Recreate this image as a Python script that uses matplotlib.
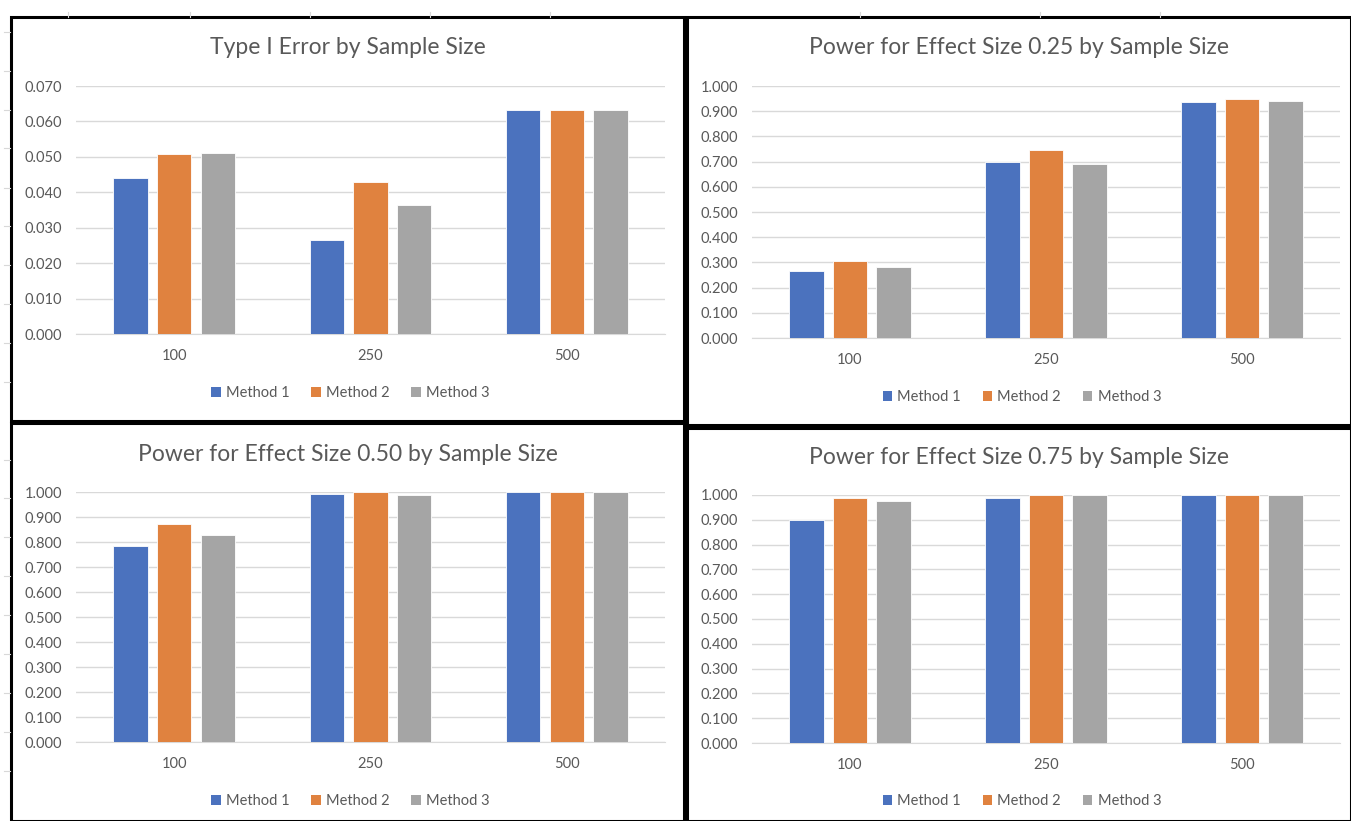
import numpy as np
import matplotlib
matplotlib.use("Agg")
import matplotlib.pyplot as plt
from matplotlib.patches import Rectangle, Patch

plt.rcParams['font.family'] = ['Lato', 'DejaVu Sans']

# data
sample_sizes = ["100", "250", "500"]
methods = ["Method 1", "Method 2", "Method 3"]
colors = ["#4B72BE", "#E0823F", "#A5A5A5"]

type1_error = [[0.0439, 0.0265, 0.0632],   # Method 1
               [0.0509, 0.0430, 0.0632],   # Method 2
               [0.0512, 0.0364, 0.0632]]   # Method 3
power_025 = [[0.266, 0.698, 0.935],
             [0.307, 0.747, 0.948],
             [0.283, 0.690, 0.940]]
power_050 = [[0.784, 0.992, 1.000],
             [0.874, 1.000, 1.000],
             [0.830, 0.987, 1.000]]
power_075 = [[0.899, 0.989, 1.000],
             [0.989, 0.999, 1.000],
             [0.977, 0.999, 1.000]]

titles = ["Type I Error by Sample Size",
          "Power for Effect Size 0.25 by Sample Size",
          "Power for Effect Size 0.50 by Sample Size",
          "Power for Effect Size 0.75 by Sample Size"]

W, H = 1351, 821
fig = plt.figure(figsize=(W / 100, H / 100), dpi=100)
fig.patch.set_facecolor("white")

def fx(x):
    return x / W

def fy(y):
    return 1 - y / H

# faint spreadsheet cell lines behind the charts
for x in [68, 190, 310, 430, 550, 860, 1040, 1160]:
    fig.add_artist(plt.Line2D([fx(x), fx(x)], [fy(12), fy(17)], color="#d8d8d8", lw=0.8))
for y in [32, 71, 110, 148, 188, 226, 265, 304, 343, 382, 460, 498, 537, 576, 615, 654, 693, 732, 771]:
    fig.add_artist(plt.Line2D([fx(4), fx(10)], [fy(y), fy(y)], color="#d8d8d8", lw=0.8))

text_col = "#595959"
grid_col = "#D9D9D9"

# panel box (x0, y0, x1, y1), plot area (x0, y0 top, x1, y1 bottom), label rows
panels = [
    dict(box=(11, 17, 684, 421), plot=(76, 86, 665, 334), title_y=47, leg_y=393,
         data=type1_error, ymax=0.070, step=0.010),
    dict(box=(687, 17, 1351, 425), plot=(752, 86, 1340, 338), title_y=47, leg_y=397,
         data=power_025, ymax=1.0, step=0.100),
    dict(box=(11, 423, 684, 821), plot=(76, 492, 665, 742), title_y=454, leg_y=801,
         data=power_050, ymax=1.0, step=0.100),
    dict(box=(687, 428, 1351, 821), plot=(752, 495, 1340, 743), title_y=457, leg_y=801,
         data=power_075, ymax=1.0, step=0.100),
]

x = np.arange(len(sample_sizes))
width = 0.175
offset = 0.222

for p, title in zip(panels, titles):
    bx0, by0, bx1, by1 = p["box"]
    fig.add_artist(Rectangle((fx(bx0), fy(by1)), fx(bx1 - bx0), (by1 - by0) / H,
                             fill=False, edgecolor="black", lw=2.2))
    px0, py0, px1, py1 = p["plot"]
    ax = fig.add_axes([fx(px0), fy(py1), fx(px1 - px0), (py1 - py0) / H])
    for i, vals in enumerate(p["data"]):
        ax.bar(x + (i - 1) * offset, vals, width, color=colors[i],
               edgecolor="white", linewidth=0.6, zorder=3)
    ax.set_xlim(-0.5, 2.5)
    ax.set_ylim(0, p["ymax"])
    ticks = np.arange(0, p["ymax"] + p["step"] / 2, p["step"])
    ax.set_yticks(ticks)
    ax.set_yticklabels(["%.3f" % t for t in ticks])
    ax.set_xticks(x)
    ax.set_xticklabels(sample_sizes)
    ax.grid(axis="y", color=grid_col, lw=1, zorder=0)
    ax.set_axisbelow(True)
    for s in ["top", "right", "left"]:
        ax.spines[s].set_visible(False)
    ax.spines["bottom"].set_color(grid_col)
    ax.tick_params(axis="both", length=0, colors=text_col, labelsize=10.5)
    ax.tick_params(axis="x", pad=11)
    ax.tick_params(axis="y", pad=10)

    cx = fx((bx0 + bx1) / 2)
    fig.text(cx, fy(p["title_y"]), title, ha="center", va="center",
             fontsize=16.5, color=text_col)
    handles = [Patch(facecolor=c, edgecolor="none") for c in colors]
    fig.legend(handles, methods, loc="center", bbox_to_anchor=(cx + fx(3), fy(p["leg_y"])),
               ncol=3, frameon=False, fontsize=10.5, labelcolor=text_col,
               handlelength=0.65, handleheight=0.65, handletextpad=0.35,
               columnspacing=1.5, borderpad=0)

fig.savefig("out.png", dpi=100)
